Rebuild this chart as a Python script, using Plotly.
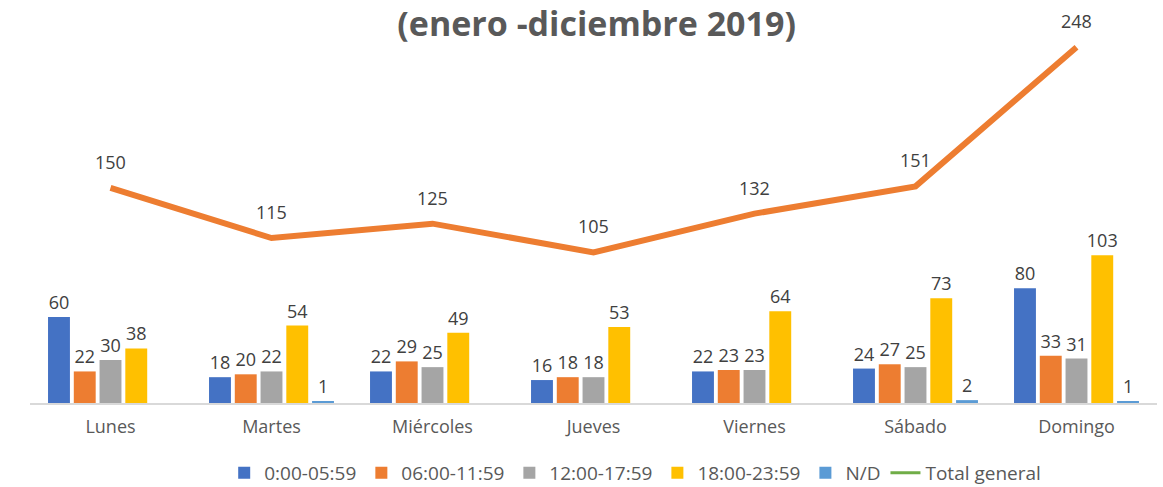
import plotly.graph_objects as go

dias = ["Lunes", "Martes", "Miércoles", "Jueves", "Viernes", "Sábado", "Domingo"]
franja_0_6 = [60, 18, 22, 16, 22, 24, 80]
franja_6_12 = [22, 20, 29, 18, 23, 27, 33]
franja_12_18 = [30, 22, 25, 18, 23, 25, 31]
franja_18_24 = [38, 54, 49, 53, 64, 73, 103]
no_disp = [None, 1, None, None, None, 2, 1]
total_general = [150, 115, 125, 105, 132, 151, 248]

series = [
    ("0:00-05:59", franja_0_6, "#4472C4"),
    ("06:00-11:59", franja_6_12, "#ED7D31"),
    ("12:00-17:59", franja_12_18, "#A5A5A5"),
    ("18:00-23:59", franja_18_24, "#FFC000"),
    ("N/D", no_disp, "#5B9BD5"),
]

FONT = "Open Sans"
fig = go.Figure()
for name, vals, color in series:
    fig.add_trace(go.Bar(
        x=dias, y=vals, name=name, marker=dict(color=color, line=dict(width=0)),
        text=[("" if v is None else str(v)) for v in vals],
        textposition="outside", constraintext="none", cliponaxis=False,
        textfont=dict(family=FONT, size=18, color="#404040"),
    ))

fig.add_trace(go.Scatter(
    x=dias, y=total_general, mode="lines", name="Total general",
    line=dict(color="#ED7D31", width=6), showlegend=False,
))
# legend entry (Excel legend shows green swatch)
fig.add_trace(go.Scatter(
    x=[None], y=[None], mode="lines", name="Total general",
    line=dict(color="#70AD47", width=3),
))
for d, v in zip(dias, total_general):
    fig.add_annotation(x=d, y=v, text=str(v), showarrow=False, yshift=26,
                       font=dict(family=FONT, size=18, color="#404040"))

fig.update_layout(
    width=1163, height=487,
    margin=dict(l=30, r=6, t=30, b=84, autoexpand=False),
    paper_bgcolor="white", plot_bgcolor="white",
    barmode="group", bargap=0.2, bargroupgap=0.15,
    title=dict(text="<b>(enero -diciembre 2019)</b>", x=0.513, xanchor="center",
               y=1 - 24 / 487, yanchor="middle", yref="container",
               font=dict(family=FONT, size=34, color="#595959")),
    xaxis=dict(showgrid=False, showline=True, linecolor="#D9D9D9", linewidth=2,
               ticks="", ticklabelstandoff=6, automargin=False,
               tickfont=dict(family=FONT, size=18, color="#595959")),
    yaxis=dict(range=[0, 260], visible=False, showgrid=False, automargin=False),
    legend=dict(orientation="h", x=0.537, xanchor="center",
                yref="container", y=1 - 473 / 487, yanchor="middle",
                font=dict(family=FONT, size=19, color="#595959"),
                traceorder="normal"),
    showlegend=True,
)

fig.write_html("out.html", config={"displayModeBar": False},
               post_script="document.body.style.margin='0';")
